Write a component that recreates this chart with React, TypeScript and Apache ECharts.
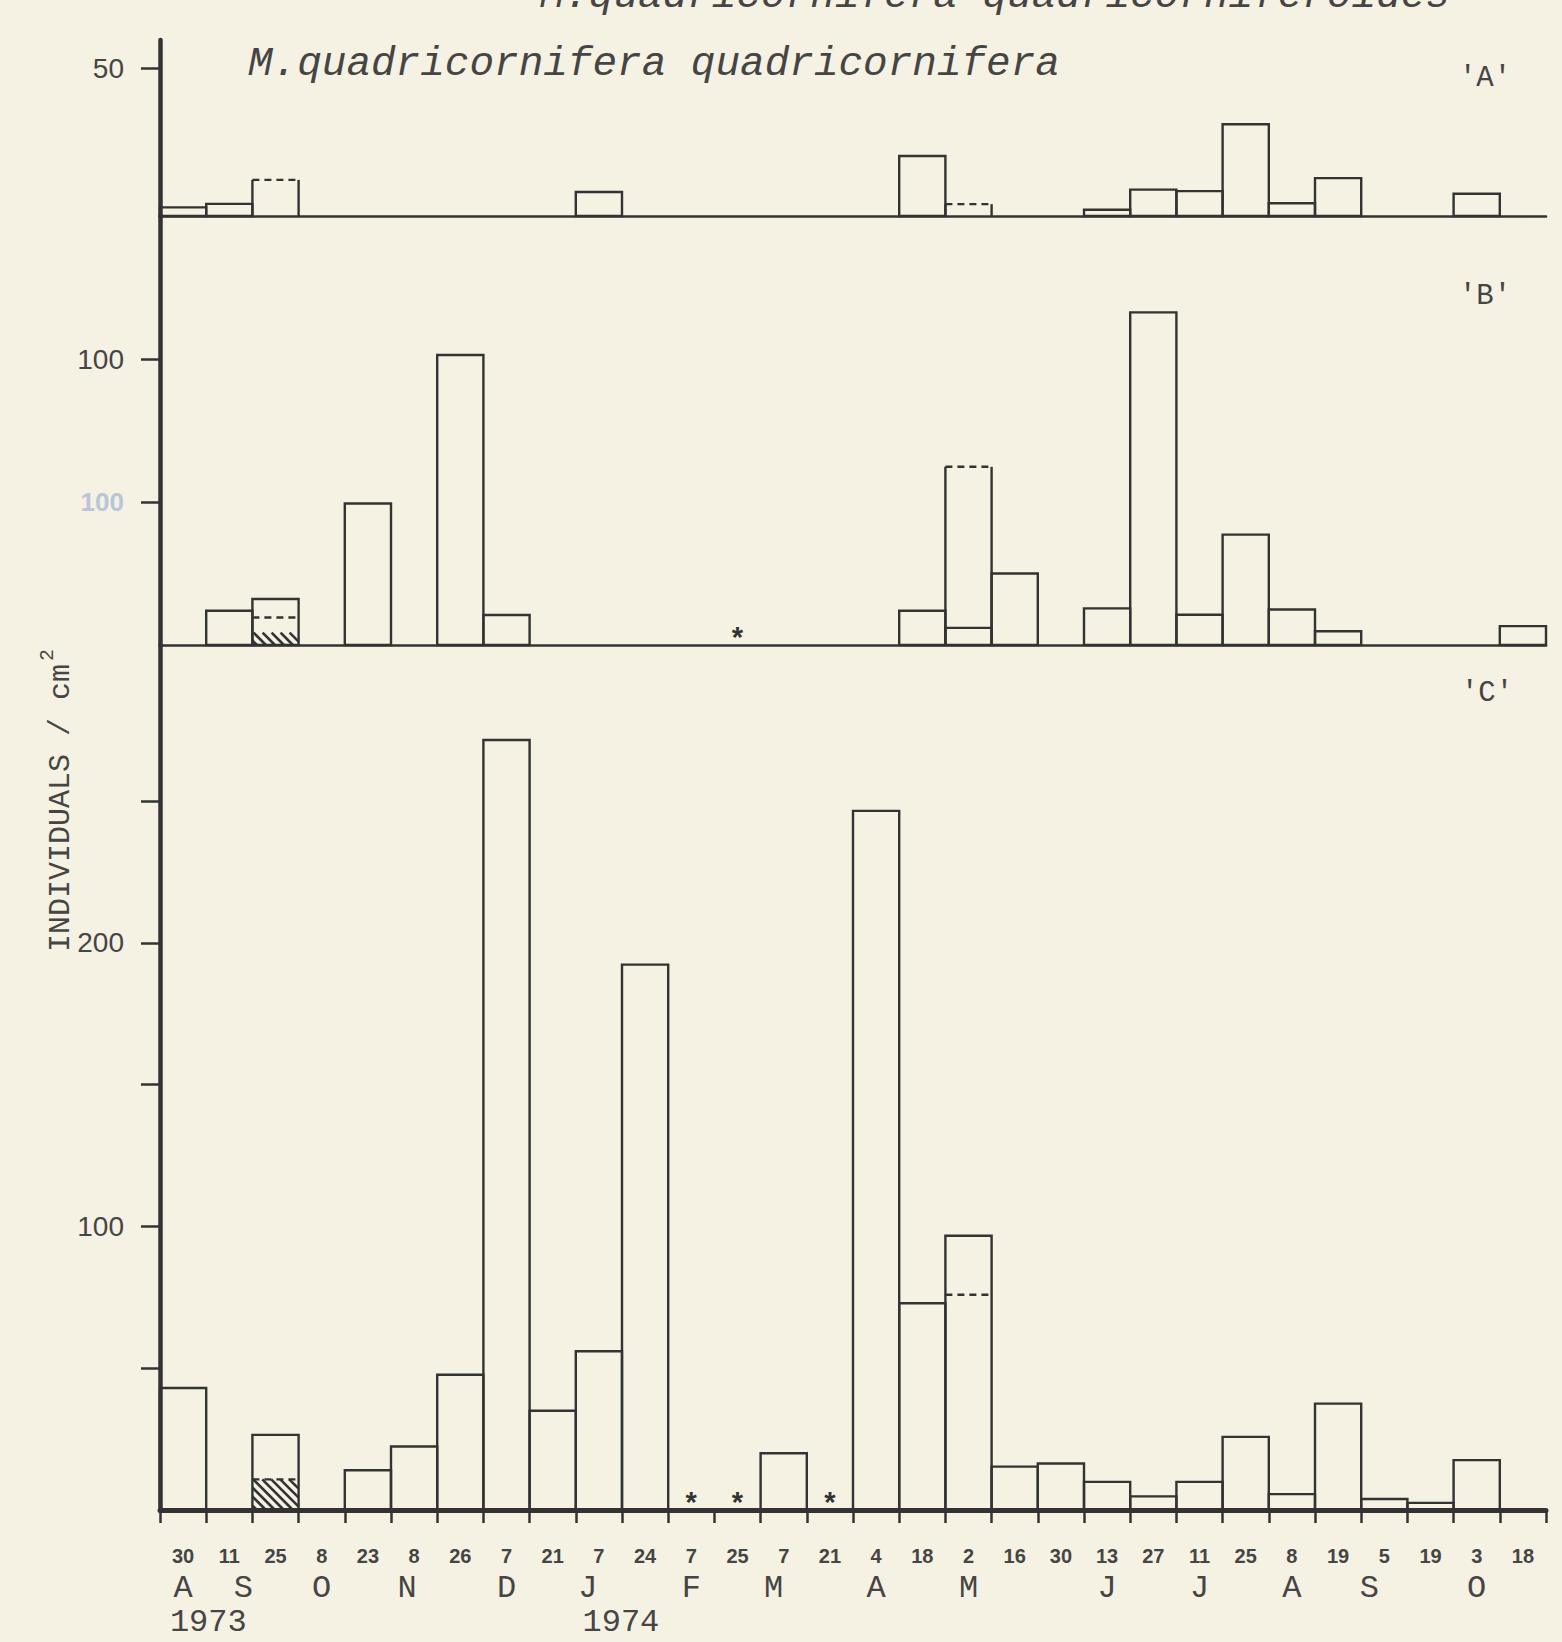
import React, { useEffect, useRef } from 'react';
import * as echarts from 'echarts';

// ---------- DATA ----------
const dateLabels = ['30','11','25','8','23','8','26','7','21','7','24','7','25','7','21','4','18','2','16','30','13','27','11','25','8','19','5','19','3','18'];
const monthLabels = ['A','S','','O','','N','','D','','J','','F','','M','','A','','M','','','J','','J','','A','','S','','O',''];
const yearLabels = ['','1973','','','','','','','','1974','','','','','','','','','','','','','','','','','','','',''];

// Panel 'A'
const aSolid   = [2.9,4.1,0,0,0,0,0,0,0,8.1,0,0,0,0,0,0,20.3,0,0,0,2.1,8.9,8.4,31,4.3,12.8,0,0,7.5,0];
const aDashTop = [0,0,12.2,0,0,0,0,0,0,0,0,0,0,0,0,0,0,4.0,0,0,0,0,0,0,0,0,0,0,0,0];

// Panel 'B'
const bSolid     = [0,12,16.1,0,49.5,0,101.4,10.5,0,0,0,0,0,0,0,0,12,6,25,0,12.8,116.3,10.6,38.6,12.4,4.8,0,0,0,6.6];
const bDashTop   = [0,0,0,0,0,0,0,0,0,0,0,0,0,0,0,0,0,62.3,0,0,0,0,0,0,0,0,0,0,0,0];
const bInnerDash = [0,0,9.6,0,0,0,0,0,0,0,0,0,0,0,0,0,0,0,0,0,0,0,0,0,0,0,0,0,0,0];
const bHatch     = [0,0,4.3,0,0,0,0,0,0,0,0,0,0,0,0,0,0,0,0,0,0,0,0,0,0,0,0,0,0,0];
const bStars     = [12];

// Panel 'C'
const cSolid     = [43,0,26.5,0,14,22.4,47.7,271.5,35,56,192.3,0,0,20,0,246.5,72.9,96.7,15.3,16.4,9.9,4.8,9.9,25.8,5.6,37.5,3.9,2.5,17.6,0];
const cInnerDash = [0,0,10.8,0,0,0,0,0,0,0,0,0,0,0,0,0,0,75.9,0,0,0,0,0,0,0,0,0,0,0,0];
const cHatch     = [0,0,10.8,0,0,0,0,0,0,0,0,0,0,0,0,0,0,0,0,0,0,0,0,0,0,0,0,0,0,0];
const cStars     = [11,12,14];

// ---------- STYLE / LAYOUT ----------
const BG = '#f5f1e3';
const INK = '#333333';
const TEXT = '#454545';
const MONO = '"Liberation Mono", "DejaVu Sans Mono", monospace';
const SANS = '"Liberation Sans", Arial, sans-serif';
const monthNudge: Record<number, number> = { 1: 14, 5: -7, 9: -11, 13: -10, 26: -15 };
const yearNudge: Record<number, number> = { 1: -21, 9: 22 };

const categories = dateLabels.map((_, i) => 'c' + i);

function buildRows(solid: number[], dashTop: number[] | null, innerDash: number[] | null, hatch: number[] | null, stars: number[]) {
  return solid.map((v, i) => [
    i,
    v,
    dashTop ? dashTop[i] : 0,
    innerDash ? innerDash[i] : 0,
    hatch ? hatch[i] : 0,
    stars.indexOf(i) >= 0 ? 1 : 0,
  ]);
}

function hatchLines(x0: number, x1: number, yt: number, yb: number, step: number) {
  const out: any[] = [];
  for (let c = x0 - yb + step / 2; c < x1 - yt; c += step) {
    const ya = Math.max(yt, x0 - c);
    const yz = Math.min(yb, x1 - c);
    if (yz > ya) {
      out.push({
        type: 'line',
        shape: { x1: c + ya, y1: ya, x2: c + yz, y2: yz },
        style: { stroke: INK, lineWidth: 2.6 },
      });
    }
  }
  return out;
}

function renderBars(params: any, api: any) {
  const i = api.value(0);
  const solid = api.value(1);
  const dashTop = api.value(2);
  const innerDash = api.value(3);
  const hatch = api.value(4);
  const star = api.value(5);
  const w = api.size([1, 0])[0];
  const base = api.coord([i, 0]);
  const cx = base[0];
  const y0 = base[1];
  const x0 = cx - w / 2;
  const x1 = cx + w / 2;
  const kids: any[] = [];
  const solidStyle = { stroke: INK, lineWidth: 2.4, fill: 'none' };
  const dashStyle = { stroke: INK, lineWidth: 2.4, lineDash: [7, 5] };
  if (hatch > 0) {
    const yt = api.coord([i, hatch])[1];
    hatchLines(x0, x1, yt, y0, 9).forEach((l) => kids.push(l));
  }
  if (dashTop > 0) {
    const yd = api.coord([i, dashTop])[1];
    kids.push({ type: 'line', shape: { x1: x0, y1: y0, x2: x0, y2: yd }, style: solidStyle });
    kids.push({ type: 'line', shape: { x1: x1, y1: y0, x2: x1, y2: yd }, style: solidStyle });
    kids.push({ type: 'line', shape: { x1: x0, y1: yd, x2: x1, y2: yd }, style: dashStyle });
  }
  if (solid > 0) {
    const ys = api.coord([i, solid])[1];
    kids.push({ type: 'rect', shape: { x: x0, y: ys, width: w, height: y0 - ys }, style: solidStyle });
  }
  if (innerDash > 0) {
    const yi = api.coord([i, innerDash])[1];
    kids.push({ type: 'line', shape: { x1: x0, y1: yi, x2: x1, y2: yi }, style: dashStyle });
  }
  if (star) {
    kids.push({
      type: 'text',
      x: cx,
      y: y0 - 4,
      style: {
        text: '*',
        fill: INK,
        fontSize: 29,
        fontWeight: 'bold',
        fontFamily: MONO,
        align: 'center',
        verticalAlign: 'middle',
      },
    });
  }
  return { type: 'group', children: kids };
}

function buildRich() {
  const rich: any = {
    d: { fontSize: 20, fontWeight: 'bold', fontFamily: SANS, color: TEXT, lineHeight: 30, align: 'center' },
    m: { fontSize: 32, fontFamily: MONO, color: TEXT, lineHeight: 34, align: 'center' },
    y: { fontSize: 32, fontFamily: MONO, color: TEXT, lineHeight: 34, align: 'center' },
  };
  Object.keys(monthNudge).forEach((k) => {
    const n = monthNudge[+k];
    rich['m' + k] = { ...rich.m, padding: n > 0 ? [0, 0, 0, 2 * n] : [0, -2 * n, 0, 0] };
  });
  Object.keys(yearNudge).forEach((k) => {
    const n = yearNudge[+k];
    rich['y' + k] = { ...rich.y, padding: n > 0 ? [0, 0, 0, 2 * n] : [0, -2 * n, 0, 0] };
  });
  return rich;
}

function xLabel(_: any, idx: number) {
  let s = `{d|${dateLabels[idx]}}`;
  if (monthLabels[idx]) {
    const key = monthNudge[idx] !== undefined ? 'm' + idx : 'm';
    s += `\n{${key}|${monthLabels[idx]}}`;
  }
  if (yearLabels[idx]) {
    const key = yearNudge[idx] !== undefined ? 'y' + idx : 'y';
    s += `\n{${key}|${yearLabels[idx]}}`;
  }
  return s;
}

function txt(text: string, x: number, y: number, font: string, align = 'center', vAlign = 'middle', extra: any = {}) {
  return {
    type: 'text', x, y, ...extra,
    style: { text, fill: TEXT, font, align, verticalAlign: vAlign, textAlign: align, textVerticalAlign: vAlign },
  };
}

function buildOption(): any {
  const gridBase = { left: 160, right: 16, outerBoundsMode: 'none', containLabel: false };
  const yLabelStyle = { margin: 36, fontSize: 28, fontFamily: SANS, color: TEXT };
  const yLine = { show: true, lineStyle: { color: INK, width: 4.5 } };
  const yTick = (vals: number[]) => ({ show: true, length: 19, customValues: vals, lineStyle: { color: INK, width: 2.5 } });
  const xBase = (g: number) => ({
    type: 'category',
    gridIndex: g,
    data: categories,
    boundaryGap: true,
    axisLine: { show: true, onZero: false, lineStyle: { color: INK, width: 2.6 } },
    axisTick: { show: false },
    axisLabel: { show: false },
    splitLine: { show: false },
  });
  return {
    animation: false,
    backgroundColor: BG,
    grid: [
      { ...gridBase, top: 40, height: 176 },
      { ...gridBase, top: 216, height: 429 },
      { ...gridBase, top: 645, height: 865 },
    ],
    xAxis: [
      xBase(0),
      xBase(1),
      {
        ...xBase(2),
        axisLine: { show: true, onZero: false, lineStyle: { color: INK, width: 5 } },
        axisTick: { show: true, length: 13, interval: 0, lineStyle: { color: INK, width: 2.5 } },
        axisLabel: { show: true, interval: 0, margin: 31, formatter: xLabel, rich: buildRich() },
      },
    ],
    yAxis: [
      {
        type: 'value', gridIndex: 0, min: 0, max: 59.5,
        axisLine: yLine, axisTick: yTick([50]), splitLine: { show: false },
        axisLabel: { ...yLabelStyle, customValues: [50] },
      },
      {
        type: 'value', gridIndex: 1, min: 0, max: 150,
        axisLine: yLine, axisTick: yTick([50, 100]), splitLine: { show: false },
        axisLabel: {
          ...yLabelStyle,
          customValues: [50, 100],
          formatter: (v: number) => (v === 50 ? '{g|100}' : String(v)),
          rich: { g: { color: '#b9c5d8', fontSize: 26, fontFamily: SANS, fontWeight: 'bold' } },
        },
      },
      {
        type: 'value', gridIndex: 2, min: 0, max: 305,
        axisLine: yLine, axisTick: yTick([50, 100, 150, 200, 250]), splitLine: { show: false },
        axisLabel: { ...yLabelStyle, customValues: [100, 200] },
      },
    ],
    series: [
      {
        type: 'custom', xAxisIndex: 0, yAxisIndex: 0, renderItem: renderBars,
        encode: { x: 0, y: 1 }, data: buildRows(aSolid, aDashTop, null, null, []),
      },
      {
        type: 'custom', xAxisIndex: 1, yAxisIndex: 1, renderItem: renderBars,
        encode: { x: 0, y: 1 }, data: buildRows(bSolid, bDashTop, bInnerDash, bHatch, bStars),
      },
      {
        type: 'custom', xAxisIndex: 2, yAxisIndex: 2, renderItem: renderBars,
        encode: { x: 0, y: 1 }, data: buildRows(cSolid, null, cInnerDash, cHatch, cStars),
      },
    ],
    graphic: [
      txt('M.quadricornifera quadricorniferoides', 1450, 16, 'italic 41px "Liberation Mono"', 'right', 'bottom'),
      txt('M.quadricornifera quadricornifera', 248, 64, 'italic 41px "Liberation Mono"', 'left', 'middle'),
      txt("'A'", 1485, 78, '29px "Liberation Mono"'),
      txt("'B'", 1485, 296, '29px "Liberation Mono"'),
      txt("'C'", 1487, 693, '29px "Liberation Mono"'),
      txt('INDIVIDUALS / cm', 61, 808, '30px "Liberation Mono"', 'center', 'middle', { rotation: Math.PI / 2 }),
      txt('2', 47, 655, '20px "Liberation Mono"', 'center', 'middle', { rotation: Math.PI / 2 }),
    ],
  };
}

export default function App() {
  const ref = useRef<HTMLDivElement>(null);
  useEffect(() => {
    document.body.style.margin = '0';
    document.body.style.background = BG;
    const chart = echarts.init(ref.current as HTMLDivElement, null, { renderer: 'svg' });
    chart.setOption(buildOption());
    return () => chart.dispose();
  }, []);
  return <div ref={ref} style={{ width: 1562, height: 1642 }} />;
}
